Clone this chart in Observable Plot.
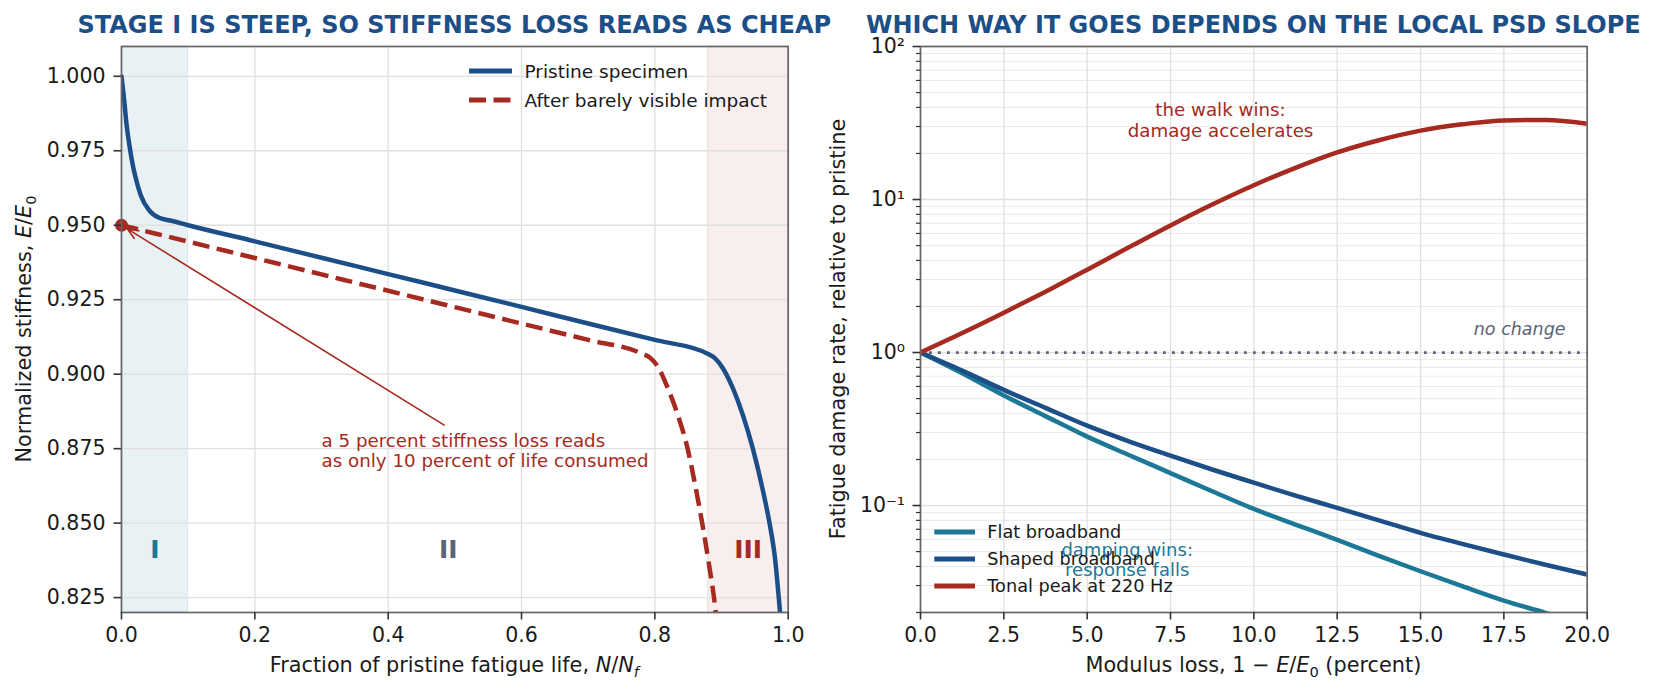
<!DOCTYPE html>
<html>
<head>
<meta charset="utf-8">
<script src="https://cdn.jsdelivr.net/npm/d3@7"></script>
<script src="https://cdn.jsdelivr.net/npm/@observablehq/plot@0.6"></script>
<style>
  html, body { margin: 0; padding: 0; background: #ffffff; }
  #root { position: relative; width: 1656px; height: 694px; overflow: hidden; background: #ffffff; }
  #root svg { position: absolute; top: 0; overflow: visible; }
</style>
</head>
<body>
<div id="root"></div>
<script>
// ---------------- DATA ----------------
// Left panel: normalized stiffness vs fraction of pristine fatigue life
const pristineLife = [0, 0.004, 0.0075, 0.0115, 0.0165, 0.0215, 0.029, 0.0415, 0.0565, 0.075, 0.1, 0.2, 0.3, 0.4, 0.5, 0.6, 0.7, 0.8, 0.88, 0.89, 0.902, 0.917, 0.932, 0.947, 0.962, 0.972, 0.98, 0.9875, 0.99];
const pristineStiff = [1.000, 0.992, 0.984, 0.9774, 0.9707, 0.9657, 0.960, 0.955, 0.9525, 0.9515, 0.950, 0.9446, 0.9391, 0.9336, 0.9281, 0.9226, 0.9170, 0.9115, 0.9068, 0.9054, 0.902, 0.8953, 0.8863, 0.875, 0.861, 0.850, 0.8386, 0.8207, 0.814];
const damagedLife = [0, 0.1, 0.2, 0.3, 0.4, 0.5, 0.6, 0.7, 0.7785, 0.7935, 0.806, 0.8185, 0.8335, 0.8485, 0.861, 0.871, 0.881, 0.891, 0.894];
const damagedStiff = [0.950, 0.9445, 0.939, 0.9335, 0.928, 0.9225, 0.917, 0.9115, 0.9071, 0.9054, 0.902, 0.8958, 0.8869, 0.8756, 0.8622, 0.850, 0.8364, 0.8207, 0.814];
const stageNames = ["I", "II", "III"];
const stageLabelX = [0.05, 0.49, 0.94];
const stageLabelY = 0.841;
const stageSpanStart = [0, 0.88];
const stageSpanEnd = [0.1, 1.0];
const lifeTicks = [0, 0.2, 0.4, 0.6, 0.8, 1.0];
const stiffTicks = [0.825, 0.85, 0.875, 0.9, 0.925, 0.95, 0.975, 1.0];
const leftSeries = ["Pristine specimen", "After barely visible impact"];
const annotationText = "a 5 percent stiffness loss reads\nas only 10 percent of life consumed";
const annotationAt = {x: 0.30, y: 0.8745};
const arrowFrom = {x: 0.484, y: 0.8829};
const arrowTo = {x: 0, y: 0.95};

// Right panel: fatigue damage rate relative to pristine vs modulus loss (percent)
const modulusLoss = [0, 1.25, 2.5, 3.75, 5, 6.25, 7.5, 8.75, 10, 11.25, 12.5, 13.75, 15, 16.25, 17.5, 18.75, 20];
const flatBroadband = [1, 0.732, 0.524, 0.384, 0.282, 0.214, 0.163, 0.124, 0.095, 0.0751, 0.0597, 0.0469, 0.0372, 0.0297, 0.0239, 0.0199, 0.0163];
const shapedBroadband = [1, 0.762, 0.570, 0.435, 0.333, 0.263, 0.212, 0.172, 0.141, 0.116, 0.0966, 0.080, 0.0663, 0.0562, 0.0479, 0.041, 0.0354];
const tonalPeak = [1, 1.34, 1.82, 2.50, 3.48, 4.87, 6.77, 9.27, 12.4, 16.1, 20.3, 24.4, 28.2, 31.0, 32.9, 33.1, 31.3];
const rightSeries = ["Flat broadband", "Shaped broadband", "Tonal peak at 220 Hz"];
const lossTicks = [0, 2.5, 5, 7.5, 10, 12.5, 15, 17.5, 20];
const rateTicks = [0.1, 1, 10, 100];
const rateTickLabels = ["10\u207B\u00B9", "10\u2070", "10\u00B9", "10\u00B2"];
const rateMinorTicks = [0.02,0.03,0.04,0.05,0.06,0.07,0.08,0.09, 0.2,0.3,0.4,0.5,0.6,0.7,0.8,0.9, 2,3,4,5,6,7,8,9, 20,30,40,50,60,70,80,90];
const walkText = "the walk wins:\ndamage accelerates";
const walkAt = {x: 9.0, y: 33.1};
const dampText = "damping wins:\nresponse falls";
const dampAt = {x: 6.2, y: 0.0445};
const noChangeText = "no change";
const noChangeAt = {x: 19.35, y: 1.42};

const titles = ["STAGE I IS STEEP, SO STIFFNESS LOSS READS AS CHEAP", "WHICH WAY IT GOES DEPENDS ON THE LOCAL PSD SLOPE"];

// ---------------- STYLE ----------------
const BLUE = "#1c4e87", RED = "#a62a20", TEAL = "#1c7896", SLATE = "#5a6478";
const FONT = "'DejaVu Sans', 'Liberation Sans', sans-serif";
const GRID = "#e0e0e0", GRIDMINOR = "#ebebeb";
const FRAME = "#666666", TICK = "#333333", INK = "#1a1a1a";
const DASH = "17,7.5";
const LW = 4.5;

const baseStyle = {fontFamily: FONT, fontSize: "20.5px", color: INK, background: "transparent", overflow: "visible"};

// ---------------- LEFT PANEL ----------------
const pristine = pristineLife.map((x, i) => ({x, y: pristineStiff[i]}));
const damaged = damagedLife.map((x, i) => ({x, y: damagedStiff[i]}));
const spanColors = [TEAL, RED];
const spanAlpha = [0.1, 0.08];
const stageColors = [TEAL, SLATE, RED];

const leftW = 810, H = 694;
const left = Plot.plot({
  width: leftW, height: H,
  marginLeft: 121, marginRight: 22.3, marginTop: 46, marginBottom: 82,
  style: baseStyle,
  x: {domain: [0, 1], label: null},
  y: {domain: [0.82, 1.01], label: null},
  marks: [
    ...stageSpanStart.map((s, i) => Plot.rect([{x1: s, x2: stageSpanEnd[i]}], {
      x1: "x1", x2: "x2", y1: 0.82, y2: 1.01,
      fill: spanColors[i], fillOpacity: spanAlpha[i], stroke: spanColors[i], strokeOpacity: 0.12, strokeWidth: 1
    })),
    Plot.gridX(lifeTicks, {stroke: GRID, strokeOpacity: 1, strokeWidth: 1.3}),
    Plot.gridY(stiffTicks, {stroke: GRID, strokeOpacity: 1, strokeWidth: 1.3}),
    Plot.line(pristine, {x: "x", y: "y", stroke: BLUE, strokeWidth: LW, curve: "monotone-x", clip: true}),
    Plot.line(damaged, {x: "x", y: "y", stroke: RED, strokeWidth: LW, strokeDasharray: DASH, strokeLinecap: "butt", strokeLinejoin: "round", curve: "monotone-x", clip: true}),
    Plot.dot([damaged[0]], {x: "x", y: "y", r: 6.5, fill: RED, stroke: "none"}),
    Plot.arrow([{x1: arrowFrom.x, y1: arrowFrom.y, x2: arrowTo.x, y2: arrowTo.y}], {
      x1: "x1", y1: "y1", x2: "x2", y2: "y2", stroke: RED, strokeWidth: 1.6, headLength: 11, headAngle: 45, insetEnd: 7
    }),
    Plot.text([{...annotationAt, t: annotationText}], {
      x: "x", y: "y", text: "t", textAnchor: "start", lineAnchor: "middle", lineHeight: 1.1,
      fontSize: 18.25, fill: RED
    }),
    ...stageNames.map((s, i) => Plot.text([{x: stageLabelX[i], y: stageLabelY, t: s}], {
      x: "x", y: "y", text: "t", fontSize: 25, fontWeight: "bold", fill: stageColors[i], lineAnchor: "middle"
    })),
    Plot.frame({stroke: FRAME, strokeWidth: 1.7}),
    Plot.axisX({ticks: lifeTicks, tickFormat: d3.format(".1f"), tickSize: 7.5, tickPadding: 7.5, strokeWidth: 1.6, stroke: TICK, fill: INK, label: null}),
    Plot.axisY({ticks: stiffTicks, tickFormat: d3.format(".3f"), tickSize: 7.5, tickPadding: 8.5, strokeWidth: 1.6, stroke: TICK, fill: INK, label: null})
  ]
});
left.style.left = "0px";

// ---------------- RIGHT PANEL ----------------
const rightValues = [flatBroadband, shapedBroadband, tonalPeak];
const rightColors = [TEAL, BLUE, RED];
const rightW = 846;
const rightLeft = 810;
const right = Plot.plot({
  width: rightW, height: H,
  marginLeft: 110, marginRight: 69.3, marginTop: 46, marginBottom: 82,
  style: baseStyle,
  x: {domain: [0, 20], label: null},
  y: {type: "log", domain: [0.02, 100], label: null},
  marks: [
    Plot.gridY(rateMinorTicks, {stroke: GRIDMINOR, strokeOpacity: 1, strokeWidth: 1.1}),
    Plot.gridY(rateTicks, {stroke: GRID, strokeOpacity: 1, strokeWidth: 1.3}),
    Plot.gridX(lossTicks, {stroke: GRID, strokeOpacity: 1, strokeWidth: 1.3}),
    Plot.ruleY([1], {stroke: SLATE, strokeWidth: 2.8, strokeDasharray: "2.8,6.2", strokeLinecap: "butt"}),
    ...rightValues.map((vals, k) => Plot.line(modulusLoss.map((x, i) => ({x, y: vals[i]})), {
      x: "x", y: "y", stroke: rightColors[k], strokeWidth: LW, curve: "monotone-x", clip: true
    })),
    Plot.text([{...walkAt, t: walkText}], {x: "x", y: "y", text: "t", textAnchor: "middle", lineAnchor: "middle", lineHeight: 1.15, fontSize: 18.25, fill: RED}),
    Plot.text([{...dampAt, t: dampText}], {x: "x", y: "y", text: "t", textAnchor: "middle", lineAnchor: "middle", lineHeight: 1.16, fontSize: 18, fill: TEAL}),
    Plot.text([{...noChangeAt, t: noChangeText}], {x: "x", y: "y", text: "t", textAnchor: "end", lineAnchor: "middle", fontSize: 17.5, fontStyle: "italic", fill: SLATE}),
    Plot.frame({stroke: FRAME, strokeWidth: 1.7}),
    Plot.axisX({ticks: lossTicks, tickFormat: d3.format(".1f"), tickSize: 7.5, tickPadding: 7.5, strokeWidth: 1.6, stroke: TICK, fill: INK, label: null}),
    Plot.axisY({ticks: rateMinorTicks, tickFormat: () => "", tickSize: 4, tickPadding: 0, strokeWidth: 1.2, stroke: TICK, label: null}),
    Plot.axisY({ticks: rateTicks, tickFormat: d => rateTickLabels[rateTicks.indexOf(d)], tickSize: 7.5, tickPadding: 8, strokeWidth: 1.6, stroke: TICK, fill: INK, label: null})
  ]
});
right.style.left = rightLeft + "px";

const root = document.getElementById("root");
root.appendChild(left);
root.appendChild(right);

// ---------------- TITLES, AXIS LABELS, LEGENDS ----------------
function addTitle(svg, text, cx) {
  d3.select(svg).append("text")
    .attr("x", cx).attr("y", 33)
    .attr("text-anchor", "middle")
    .attr("font-family", FONT).attr("font-size", 24).attr("font-weight", "bold")
    .attr("fill", BLUE).text(text);
}
// parts: [text, italic?, sub?]
function addLabel(svg, parts, x, y, rotate) {
  const t = d3.select(svg).append("text")
    .attr("transform", `translate(${x},${y})` + (rotate ? " rotate(-90)" : ""))
    .attr("text-anchor", "middle")
    .attr("font-family", FONT).attr("font-size", 20.8).attr("fill", INK);
  let shifted = false;
  parts.forEach(([s, it, sub]) => {
    const ts = t.append("tspan").text(s);
    if (it) ts.attr("font-style", "italic");
    if (sub) { ts.attr("font-size", 14.6).attr("dy", 4.5); shifted = true; }
    else if (shifted) { ts.attr("dy", -4.5); shifted = false; }
  });
}
function addLegend(svg, names, colors, dashes, x0, x1, xt, ys, fontSize) {
  const g = d3.select(svg).append("g").attr("text-anchor", "start");
  names.forEach((n, i) => {
    g.append("line").attr("x1", x0).attr("x2", x1).attr("y1", ys[i]).attr("y2", ys[i])
      .attr("stroke", colors[i]).attr("stroke-width", LW + 0.5)
      .attr("stroke-dasharray", dashes[i] || null);
    g.append("text").attr("x", xt).attr("y", ys[i]).attr("dy", "0.36em")
      .attr("text-anchor", "start")
      .attr("font-family", FONT).attr("font-size", fontSize).attr("fill", INK).text(n);
  });
}

const leftFrameCx = 121 + (leftW - 121 - 22.3) / 2;
const rightFrameCx = 110 + (rightW - 110 - 69.3) / 2;
addTitle(left, titles[0], leftFrameCx);
addTitle(right, titles[1], rightFrameCx);

addLabel(left, [["Normalized stiffness, "], ["E", true], ["/"], ["E", true], ["0", false, true]], 31, 329, true);
addLabel(left, [["Fraction of pristine fatigue life, "], ["N", true], ["/"], ["N", true], ["f", true, true]], leftFrameCx, 672, false);
addLabel(right, [["Fatigue damage rate, relative to pristine"]], 35, 329, true);
addLabel(right, [["Modulus loss, 1 \u2212 "], ["E", true], ["/"], ["E", true], ["0", false, true], [" (percent)"]], rightFrameCx, 672, false);

addLegend(left, leftSeries, [BLUE, RED], [null, DASH], 469, 512, 524.5, [71, 100], 18.5);
addLegend(right, rightSeries, rightColors, [null, null, null], 934.3 - rightLeft, 975 - rightLeft, 987.3 - rightLeft, [532, 559, 586], 17.7);
</script>
</body>
</html>
